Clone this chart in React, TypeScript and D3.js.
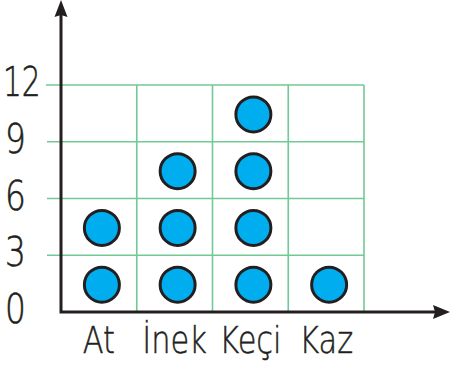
import React from "react";
import * as d3 from "d3";

// pictograph data: each circle stands for 3 animals
const categories = ["At", "İnek", "Keçi", "Kaz"];
const values = [6, 9, 12, 3];
const unitPerSymbol = 3;
const yTicks = [0, 3, 6, 9, 12];

const W = 451;
const H = 369;

const App = () => {
  const x = d3.scaleBand().domain(categories).range([61, 364]).padding(0);
  const y = d3.scaleLinear().domain([0, 12]).range([312, 85]);
  const bw = x.bandwidth();

  const axisColor = "#231f20";
  const gridColor = "#72c996";
  const font = "'DejaVu Sans', sans-serif";

  const x0 = x.range()[0];
  const x1 = x.range()[1];
  const yBase = y(0);

  const symbols = categories.flatMap((c, ci) =>
    d3.range(values[ci] / unitPerSymbol).map((i) => ({
      key: `${c}-${i}`,
      cx: (x(c) as number) + bw / 2 + 3,
      cy: y(i * unitPerSymbol + unitPerSymbol / 2) + 1,
    }))
  );

  return (
    <div style={{ position: "fixed", left: 0, top: 0 }}>
      <svg width={W} height={H} style={{ display: "block", background: "#fff" }}>
        {/* horizontal grid */}
        {yTicks.slice(1).map((t) => (
          <line
            key={`h${t}`}
            x1={t === 12 ? 46 : 47}
            x2={x1}
            y1={y(t)}
            y2={y(t)}
            stroke={gridColor}
            strokeWidth={1.6}
          />
        ))}
        {/* vertical grid */}
        {categories.map((c) => (
          <line
            key={`v${c}`}
            x1={(x(c) as number) + bw}
            x2={(x(c) as number) + bw}
            y1={y(12)}
            y2={yBase}
            stroke={gridColor}
            strokeWidth={1.6}
          />
        ))}

        {/* symbols */}
        {symbols.map((s) => (
          <circle
            key={s.key}
            cx={s.cx}
            cy={s.cy}
            r={17.5}
            fill="#00aeef"
            stroke={axisColor}
            strokeWidth={3}
          />
        ))}

        {/* axes */}
        <path
          d={`M${x0},14 L${x0},${yBase} L437,${yBase}`}
          fill="none"
          stroke={axisColor}
          strokeWidth={3}
        />
        <path
          d={`M${x0},0 L${x0 + 6.5},17 L${x0},15 L${x0 - 6.5},17 Z`}
          fill={axisColor}
        />
        <path
          d={`M450,${yBase} L433,${yBase - 7} L435,${yBase} L433,${yBase + 7} Z`}
          fill={axisColor}
        />

        {/* y tick labels */}
        {yTicks.map((t) => (
          <text
            key={`t${t}`}
            transform={`translate(${t >= 10 ? 3 : 5},${y(t) + 11}) scale(${t >= 10 ? 0.72 : 0.8},1)`}
            fontFamily={font}
            fontWeight={200}
            fontSize={41}
            fill={axisColor}
            stroke={axisColor}
            strokeWidth={0.6}
          >
            {t}
          </text>
        ))}

        {/* category labels */}
        {categories.map((c) => (
          <text
            key={`c${c}`}
            transform={`translate(${(x(c) as number) + bw / 2},353) scale(0.8,1)`}
            textAnchor="middle"
            fontFamily={font}
            fontWeight={200}
            fontSize={38}
            fill={axisColor}
            stroke={axisColor}
            strokeWidth={0.5}
          >
            {c}
          </text>
        ))}
      </svg>
    </div>
  );
};

export default App;
